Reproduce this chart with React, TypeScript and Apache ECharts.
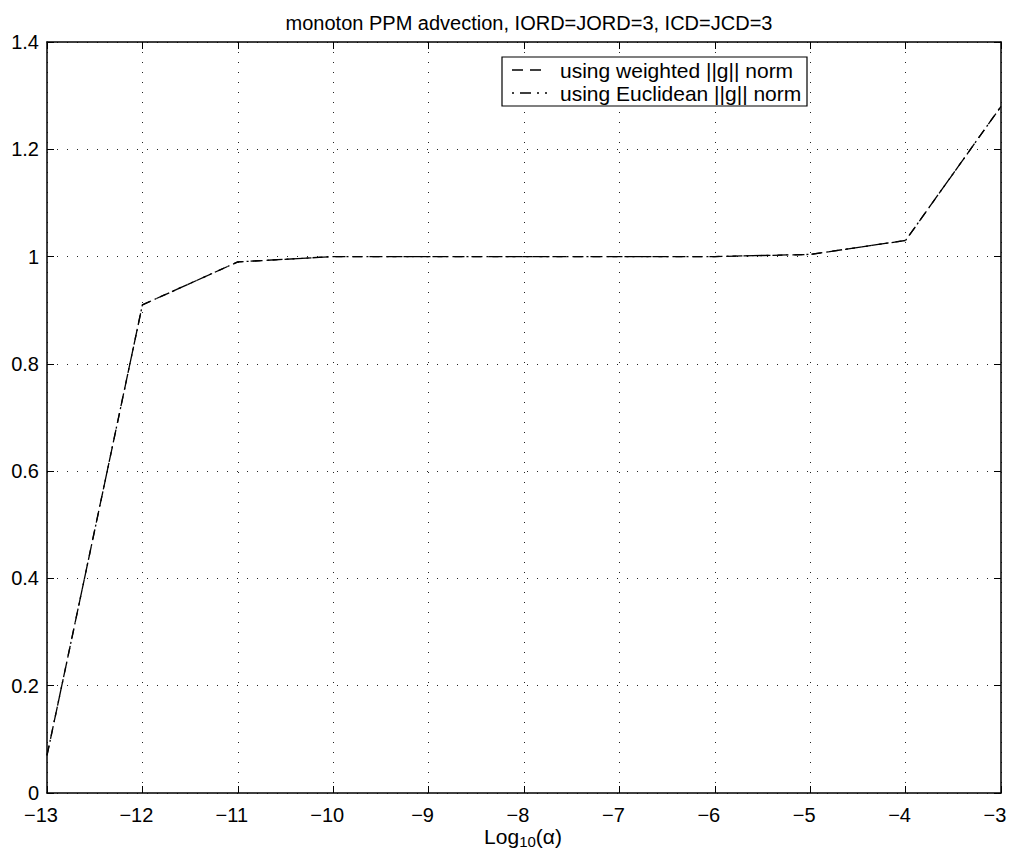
import React, { useEffect, useRef } from "react";
import * as echarts from "echarts";

const xValues = [-13, -12, -11, -10, -9, -8, -7, -6, -5, -4, -3];
const weightedNorm = [0.07, 0.91, 0.99, 1.0, 1.0, 1.0, 1.0, 1.0, 1.004, 1.03, 1.28];
const euclideanNorm = [0.07, 0.91, 0.99, 1.0, 1.0, 1.0, 1.0, 1.0, 1.004, 1.03, 1.28];
const seriesNames = ["using weighted ||g|| norm", "using Euclidean ||g|| norm"];
const titleText = "monoton PPM advection, IORD=JORD=3, ICD=JCD=3";
const xAxisTitle = "{a|Log}{b|10}{a|(\u03b1)}";

const FONT = "Liberation Sans, Arial, Helvetica, sans-serif";
const dashed = [10, 7];
const dashDot = [10, 4, 2, 4];

export default function App() {
  const ref = useRef<HTMLDivElement>(null);
  useEffect(() => {
    if (!ref.current) return;
    const chart = echarts.init(ref.current, null, { renderer: "svg" });
    const fmt = (v: number) => {
      const s = String(v);
      return s.startsWith("-") ? "\u2212" + s.slice(1) : s;
    };
    const gridLine = { show: true, lineStyle: { color: "#222", type: [1, 9] as any, width: 1 } };
    chart.setOption({
      animation: false,
      backgroundColor: "#fff",
      textStyle: { fontFamily: FONT },
      title: {
        text: titleText,
        left: 524,
        top: 8,
        textAlign: "center",
        textStyle: { fontFamily: FONT, fontSize: 20, fontWeight: "normal", color: "#000" },
      },
      grid: { left: 47, right: 9, top: 42, bottom: 63, containLabel: false, outerBoundsMode: "none" },
      xAxis: [
        {
          type: "value",
          min: -13,
          max: -3,
          interval: 1,
          position: "bottom",
          axisLine: { show: true, onZero: false, lineStyle: { color: "#000", width: 1.5 } },
          axisTick: { show: true, inside: true, length: 7, lineStyle: { color: "#000" } },
          axisLabel: { fontFamily: FONT, fontSize: 20, color: "#000", margin: 12, padding: [0, 12, 0, 0], formatter: fmt },
          splitLine: gridLine,
        },
        {
          type: "value",
          min: -13,
          max: -3,
          interval: 1,
          position: "top",
          axisLine: { show: true, onZero: false, lineStyle: { color: "#000", width: 1.5 } },
          axisTick: { show: true, inside: true, length: 7, lineStyle: { color: "#000" } },
          axisLabel: { show: false },
          splitLine: { show: false },
        },
      ],
      yAxis: [
        {
          type: "value",
          min: 0,
          max: 1.4,
          interval: 0.2,
          position: "left",
          axisLine: { show: true, onZero: false, lineStyle: { color: "#000", width: 1.5 } },
          axisTick: { show: true, inside: true, length: 7, lineStyle: { color: "#000" } },
          axisLabel: { fontFamily: FONT, fontSize: 20, color: "#000", margin: 8, formatter: (v: number) => String(Math.round(v * 10) / 10) },
          splitLine: gridLine,
        },
        {
          type: "value",
          min: 0,
          max: 1.4,
          interval: 0.2,
          position: "right",
          axisLine: { show: true, onZero: false, lineStyle: { color: "#000", width: 1.5 } },
          axisTick: { show: true, inside: true, length: 7, lineStyle: { color: "#000" } },
          axisLabel: { show: false },
          splitLine: { show: false },
        },
      ],
      series: [
        {
          name: seriesNames[0],
          type: "line",
          xAxisIndex: 0,
          yAxisIndex: 0,
          data: xValues.map((x, i) => [x, weightedNorm[i]]),
          showSymbol: false,
          symbol: "none",
          lineStyle: { color: "#000", width: 1.3, type: dashed as any },
        },
        {
          name: seriesNames[1],
          type: "line",
          xAxisIndex: 0,
          yAxisIndex: 0,
          data: xValues.map((x, i) => [x, euclideanNorm[i]]),
          showSymbol: false,
          symbol: "none",
          lineStyle: { color: "#000", width: 1.3, type: dashDot as any },
        },
      ],
      graphic: [
        {
          type: "text",
          x: 523,
          y: 836,
          style: {
            text: xAxisTitle,
            align: "center",
            verticalAlign: "middle",
            rich: {
              a: { fontFamily: FONT, fontSize: 21, lineHeight: 26, fill: "#000" },
              b: { fontFamily: FONT, fontSize: 15, lineHeight: 10, fill: "#000", verticalAlign: "bottom" },
            },
          },
        },
        {
          type: "rect",
          shape: { x: 502, y: 57, width: 305, height: 49 },
          style: { fill: "#fff", stroke: "#000", lineWidth: 1.2 },
          z: 100,
        },
        {
          type: "line",
          shape: { x1: 512, y1: 70, x2: 548, y2: 70 },
          style: { stroke: "#000", lineWidth: 1.3, lineDash: [11, 7] },
          z: 101,
        },
        {
          type: "line",
          shape: { x1: 512, y1: 93, x2: 548, y2: 93 },
          style: { stroke: "#000", lineWidth: 1.3, lineDash: [2, 6, 11, 6, 2, 6] },
          z: 101,
        },
        {
          type: "text",
          x: 560,
          y: 70,
          style: { text: seriesNames[0], fontFamily: FONT, fontSize: 21, fill: "#000", verticalAlign: "middle" },
          z: 101,
        },
        {
          type: "text",
          x: 560,
          y: 93,
          style: { text: seriesNames[1], fontFamily: FONT, fontSize: 21, fill: "#000", verticalAlign: "middle" },
          z: 101,
        },
      ],
    });
    return () => chart.dispose();
  }, []);
  return (
    <div
      ref={ref}
      style={{ position: "fixed", left: 0, top: 0, width: 1010, height: 856, background: "#fff" }}
    />
  );
}
